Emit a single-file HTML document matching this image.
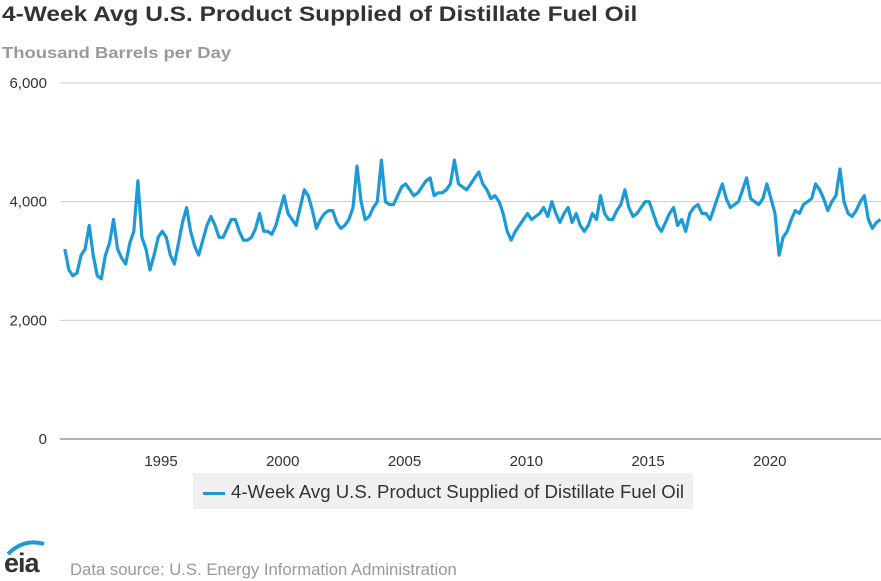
<!DOCTYPE html>
<html><head><meta charset="utf-8"><style>
body{margin:0;width:881px;height:581px;background:#fff;font-family:"Liberation Sans",sans-serif;overflow:hidden;position:relative}
.t{position:absolute;white-space:nowrap}
</style></head><body>
<div class="t" style="left:2px;top:3px;font-size:21px;font-weight:bold;color:#333;transform:scaleX(1.165);transform-origin:0 0">4-Week Avg U.S. Product Supplied of Distillate Fuel Oil</div>
<div class="t" style="left:2px;top:45px;font-size:16px;font-weight:bold;color:#999;transform:scaleX(1.15);transform-origin:0 0">Thousand Barrels per Day</div>
<svg id="c" width="881" height="581" style="position:absolute;left:0;top:0"></svg>
<div style="position:absolute;left:193px;top:473px;width:500px;height:36px;background:#f0f0f0"></div>
<div class="t" style="left:203px;top:481px;font-size:18.6px;color:#333"><span style="display:inline-block;width:22px;height:3px;background:#1b9ad6;vertical-align:middle;margin-right:6px"></span>4-Week Avg U.S. Product Supplied of Distillate Fuel Oil</div>
<div class="t" style="left:4px;top:548px;font-size:27px;font-weight:bold;color:#333;letter-spacing:-1px">eia</div>
<svg width="50" height="30" style="position:absolute;left:4px;top:536px"><path d="M4 18 Q20 2 40 8" stroke="#1b9ad6" stroke-width="4" fill="none"/></svg>
<div class="t" style="left:70px;top:560px;font-size:16.7px;color:#999">Data source: U.S. Energy Information Administration</div>
<script>
const yTicks=[0,2000,4000,6000];
const yTickLabels=["0","2,000","4,000","6,000"];
const xTicks=[1995,2000,2005,2010,2015,2020];
const startYear=1991;
const perYear=6;
const values=[
3200,2850,2750,2800,3100,3200,
3600,3100,2750,2700,3100,3300,
3700,3200,3050,2950,3300,3500,
4350,3400,3200,2850,3100,3400,
3500,3400,3100,2950,3300,3650,
3900,3500,3250,3100,3350,3600,
3750,3600,3400,3400,3550,3700,
3700,3500,3350,3350,3400,3550,
3800,3500,3500,3450,3600,3850,
4100,3800,3700,3600,3900,4200,
4100,3850,3550,3700,3800,3850,
3850,3650,3550,3600,3700,3900,
4600,4000,3700,3750,3900,4000,
4700,4000,3950,3950,4100,4250,
4300,4200,4100,4150,4250,4350,
4400,4100,4150,4150,4200,4300,
4700,4300,4250,4200,4300,4400,
4500,4300,4200,4050,4100,4000,
3800,3500,3350,3500,3600,3700,
3800,3700,3750,3800,3900,3750,
4000,3800,3650,3800,3900,3650,
3800,3600,3500,3600,3800,3700,
4100,3800,3700,3700,3850,3950,
4200,3900,3750,3800,3900,4000,
4000,3800,3600,3500,3650,3800,
3900,3600,3700,3500,3800,3900,
3950,3800,3800,3700,3900,4100,
4300,4050,3900,3950,4000,4200,
4400,4050,4000,3950,4050,4300,
4050,3800,3100,3400,3500,3700,
3850,3800,3950,4000,4050,4300,
4200,4050,3850,4000,4100,4550,
4000,3800,3750,3850,4000,4100,
3700,3550,3650,3700];
const svg=document.getElementById('c');
const NS='http://www.w3.org/2000/svg';
const x=yr=>161+(yr-1995)*24.35;
const y=v=>439-v*(356/6000);
function mk(t,a){const e=document.createElementNS(NS,t);for(const k in a)e.setAttribute(k,a[k]);svg.appendChild(e);return e;}
yTicks.forEach((v,i)=>{
  const g=mk('line',{x1:60,x2:881,y1:y(v),y2:y(v),stroke:i==0?'#999':'#ccc','stroke-width':i==0?1.5:1});
  
  
  const t=mk('text',{x:47,y:y(v)+5,'text-anchor':'end','font-size':15,fill:'#333','font-family':'Liberation Sans, sans-serif'});
  t.textContent=yTickLabels[i];
  
  
});
xTicks.forEach(yr=>{
  const t=mk('text',{x:x(yr),y:466,'text-anchor':'middle','font-size':15,fill:'#333','font-family':'Liberation Sans, sans-serif'});
  t.textContent=yr;
  
  
});
const pts=values.map((v,i)=>x(startYear+i/perYear+0.05).toFixed(1)+','+y(v).toFixed(1)).join(' ');
const p=mk('polyline',{points:pts,fill:'none',stroke:'#1b9ad6','stroke-width':3.2,'stroke-linejoin':'round'});


</script>
</body></html>
